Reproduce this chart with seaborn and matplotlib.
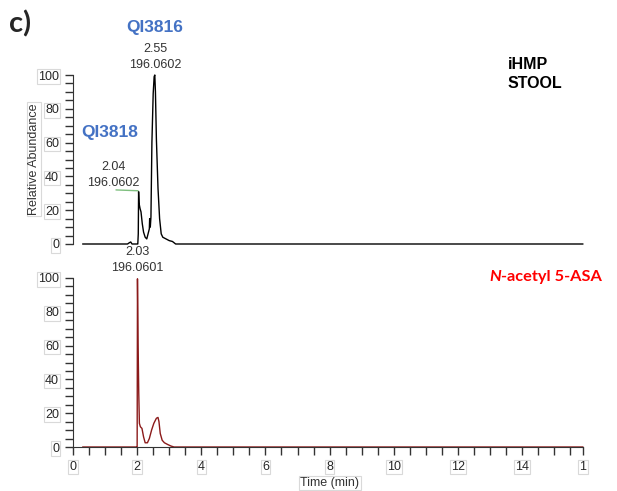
import numpy as np
import pandas as pd
import seaborn as sns
import matplotlib.pyplot as plt
from matplotlib.ticker import MultipleLocator

stool_time = [0.3, 1.7, 1.76, 1.8, 1.84, 1.95, 2.0, 2.02, 2.035, 2.045, 2.06, 2.09, 2.12,
              2.16, 2.2, 2.25, 2.3, 2.34, 2.38, 2.39, 2.41, 2.43, 2.46, 2.5, 2.53, 2.55,
              2.57, 2.6, 2.65, 2.7, 2.75, 2.8, 2.9, 3.0, 3.1, 3.2, 15.9]
stool_abund = [0, 0, 0.8, 1.2, 0, 0, 0, 0, 6, 31, 24, 21, 19,
               12, 7, 4, 3, 6, 9, 15, 10, 16, 60, 89, 99, 100,
               90, 62, 33, 15, 6, 4, 3, 2, 1.5, 0, 0]

std_time = [0.3, 1.99, 2.0, 2.01, 2.03, 2.05, 2.07, 2.1, 2.15, 2.2, 2.25, 2.32, 2.38,
            2.45, 2.52, 2.6, 2.65, 2.68, 2.72, 2.78, 2.85, 2.95, 3.05, 3.15, 15.9]
std_abund = [0, 0, 0, 99.5, 60, 32, 14, 12, 11, 6, 2.5, 2.5, 5,
             10, 14, 17, 17.5, 15, 8, 4, 2.5, 1.5, 0.6, 0, 0]

x_ticks = [0, 2, 4, 6, 8, 10, 12, 14, 15.9]
x_labels = ['0', '2', '4', '6', '8', '10', '12', '14', '1']
y_ticks = [0, 20, 40, 60, 80, 100]

df_stool = pd.DataFrame({'Time': stool_time, 'Abundance': stool_abund})
df_std = pd.DataFrame({'Time': std_time, 'Abundance': std_abund})

sns.set_style('white')
plt.rcParams['font.family'] = ['Liberation Sans', 'DejaVu Sans']

W, H = 617, 491
fig = plt.figure(figsize=(W / 100, H / 100), dpi=100)
ax1 = fig.add_axes([73 / W, 1 - 244 / H, 510 / W, 169 / H])
ax2 = fig.add_axes([73 / W, 1 - 447 / H, 510 / W, 169 / H])

box = dict(boxstyle='square,pad=0.1', fc='white', ec='#d9d9d9', lw=0.8)
azul = '#4472c4'

for ax, df, color in [(ax1, df_stool, 'black'), (ax2, df_std, '#8b1a1a')]:
    sns.lineplot(data=df, x='Time', y='Abundance', ax=ax, color=color, lw=1.0,
                 estimator=None, sort=False)
    for l in ax.lines:
        l.set_clip_on(False)
    ax.set_xlim(0, 15.9)
    ax.set_ylim(0, 100)
    ax.set_xlabel('')
    ax.set_ylabel('')
    for s in ['top', 'right']:
        ax.spines[s].set_visible(False)
    ax.spines['left'].set_color('#333333')
    ax.spines['bottom'].set_color('#333333')
    ax.set_yticks(y_ticks)
    ax.yaxis.set_minor_locator(MultipleLocator(5))
    ax.tick_params(axis='y', which='both', left=True, length=6, width=1,
                   color='#333333', labelsize=9, pad=4)
    for lbl in ax.get_yticklabels():
        lbl.set_bbox(box)

# panel superior: sin eje x
ax1.spines['bottom'].set_visible(False)
ax1.set_xticks([])

ax2.set_xticks(x_ticks)
ax2.set_xticklabels(x_labels)
ax2.xaxis.set_minor_locator(MultipleLocator(0.5))
ax2.tick_params(axis='x', which='both', bottom=True, length=6, width=1,
                color='#333333', labelsize=9, pad=4)
for lbl in ax2.get_xticklabels():
    lbl.set_bbox(box)

# Etiquetas de picos
txt = dict(ha='center', va='center', fontsize=9, color='#333333', clip_on=False)
ax1.text(2.56, 128, 'QI3816', ha='center', va='center', fontsize=12.5,
         fontweight='bold', color=azul)
ax1.text(2.56, 115.5, '2.55', **txt)
ax1.text(2.56, 106, '196.0602', **txt)
ax1.text(1.15, 66, 'QI3818', ha='center', va='center', fontsize=12.5,
         fontweight='bold', color=azul)
ax1.text(1.25, 45.5, '2.04', **txt)
ax1.text(1.25, 36, '196.0602', **txt)
ax1.plot([1.34, 2.03], [32, 31.5], color='#7fbf7f', lw=1, clip_on=False)
ax1.text(13.56, 106.5, 'iHMP', ha='left', va='center', fontsize=11.5,
         fontweight='bold', color='black')
ax1.text(13.56, 95, 'STOOL', ha='left', va='center', fontsize=11.5,
         fontweight='bold', color='black')

ax2.text(2.0, 115.5, '2.03', **txt)
ax2.text(2.0, 106, '196.0601', **txt)
t_asa = ax2.text(16.5, 100.5, '-acetyl 5-ASA', ha='right', va='center', fontsize=11.8,
                 fontweight='bold', color='#ff0000', family=['Lato', 'DejaVu Sans'],
                 clip_on=False)
ax2.annotate('N', xy=(0, 0.5), xycoords=t_asa, ha='right', va='center', fontsize=11.8,
             fontweight='bold', style='italic', color='#ff0000',
             family=['Lato', 'DejaVu Sans'])

fig.text(34 / W, 1 - 159 / H, 'Relative Abundance', rotation=90, ha='center',
         va='center', fontsize=9, color='#333333', bbox=box)
fig.text(330 / W, 1 - 483 / H, 'Time (min)', ha='center', va='center',
         fontsize=9, color='#333333', bbox=box)
fig.text(20 / W, 1 - 24 / H, 'c)', ha='center', va='center', fontsize=21,
         fontweight='bold', family=['Lato', 'DejaVu Sans'])

fig.savefig('out.png', dpi=100)
